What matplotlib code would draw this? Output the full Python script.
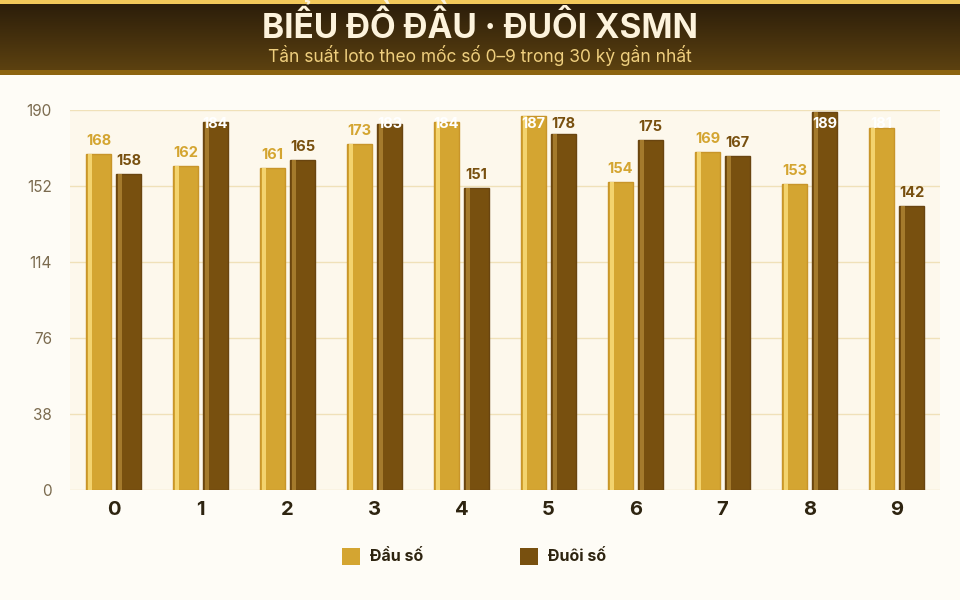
import matplotlib.pyplot as plt
import numpy as np
from matplotlib.patches import Rectangle

plt.rcParams['font.family'] = ['Inter', 'DejaVu Sans']

# Data
digits = ['0', '1', '2', '3', '4', '5', '6', '7', '8', '9']
dau = [168, 162, 161, 173, 184, 187, 154, 169, 153, 181]
duoi = [158, 184, 165, 183, 151, 178, 175, 167, 189, 142]
yticks = [0, 38, 76, 114, 152, 190]

# Colors
bg = '#fefcf6'
plot_bg = '#fdf8ec'
c_dau = '#d4a531'
c_dau_hi = '#f3d36e'
c_dau_edge = '#c8952a'
c_duoi = '#78500f'
c_duoi_hi = '#a47a2c'
c_duoi_edge = '#694510'
grid_c = '#f0e1b9'

W, H = 960, 600
fig = plt.figure(figsize=(9.6, 6), dpi=100, facecolor=bg)

# Header band with gradient
hax = fig.add_axes([0, 1 - 75 / H, 1, 75 / H])
hax.set_xlim(0, W)
hax.set_ylim(75, 0)
hax.axis('off')
top = np.array([0x2c, 0x1e, 0x0a]) / 255
bot = np.array([0x5c, 0x41, 0x10]) / 255
t = np.linspace(0, 1, 100)[:, None]
grad = (top * (1 - t) + bot * t)[:, None, :]
grad = np.repeat(grad, 2, axis=1)
hax.imshow(grad, extent=[0, W, 70, 4], aspect='auto')
hax.add_patch(Rectangle((0, 0), W, 4, color='#f2c85a', lw=0))
hax.add_patch(Rectangle((0, 70), W, 5, color='#8c640f', lw=0))
hax.text(W / 2, 26, 'BIỂU ĐỒ ĐẦU · ĐUÔI XSMN', ha='center', va='center',
         fontsize=24, fontweight='bold', color='#fdf3dc')
hax.text(W / 2, 56, 'Tần suất loto theo mốc số 0–9 trong 30 kỳ gần nhất',
         ha='center', va='center', fontsize=12.5, color='#efcf7e')

# Main axes
ax = fig.add_axes([70 / W, 1 - 490 / H, 870 / W, 380 / H], facecolor=plot_bg)
x = np.arange(len(digits))
bw = 25 / 87
off = 15 / 87
hw = 4.5 / 87
hoff = 1.5 / 87

ax.set_xlim(-0.5, 9.5)
ax.set_ylim(0, 190)
ax.set_yticks(yticks)
ax.grid(True, axis='y', color=grid_c, linewidth=1)
ax.set_axisbelow(True)
for s in ax.spines.values():
    s.set_visible(False)
ax.tick_params(axis='y', length=0, pad=13, labelsize=11, labelcolor='#7b6b4f')
ax.tick_params(axis='x', length=0, pad=8, labelsize=14.5, labelcolor='#2e2410')
ax.set_xticks(x)
ax.set_xticklabels(digits, fontweight='bold')

series = [(dau, -off, c_dau, c_dau_hi, c_dau_edge, 'Đầu số'),
          (duoi, off, c_duoi, c_duoi_hi, c_duoi_edge, 'Đuôi số')]
for vals, o, col, hi, edge, lab in series:
    ax.bar(x + o, vals, bw, color=col, edgecolor=edge, linewidth=1, label=lab)
    ax.bar(x + o - bw / 2 + hoff + hw / 2, vals, hw, color=hi, linewidth=0)
    for xi, v in zip(x, vals):
        # labels are clamped near the top of the plot, white when inside the bar
        ylab = min(v + 3, 179.5)
        tc = '#ffffff' if v > 179 else col
        ax.text(xi + o, ylab, str(v), ha='center', va='bottom',
                fontsize=10.5, fontweight='bold', color=tc)

# Legend
lax = fig.add_axes([0, 0, 1, 70 / H])
lax.set_xlim(0, W)
lax.set_ylim(70, 0)
lax.axis('off')
lax.add_patch(Rectangle((342, 18), 18, 17, color=c_dau, lw=0))
lax.text(370, 26.5, 'Đầu số', ha='left', va='center', fontsize=11.5,
         fontweight='bold', color='#2e2410')
lax.add_patch(Rectangle((520, 18), 18, 17, color=c_duoi, lw=0))
lax.text(548, 26.5, 'Đuôi số', ha='left', va='center', fontsize=11.5,
         fontweight='bold', color='#2e2410')

plt.savefig('out.png', dpi=100, facecolor=bg)
